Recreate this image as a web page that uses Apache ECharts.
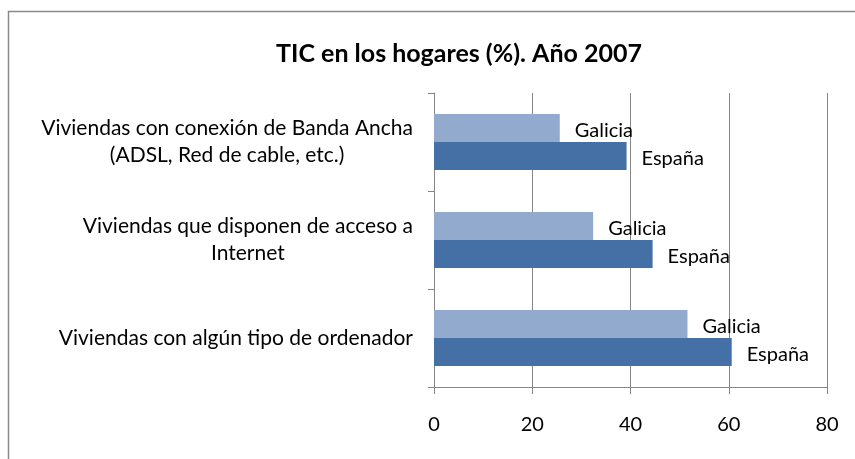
<!DOCTYPE html>
<html>
<head>
<meta charset="utf-8">
<script src="https://cdn.jsdelivr.net/npm/echarts@6/dist/echarts.min.js"></script>
<style>
  html, body { margin: 0; padding: 0; background: #fff; }
  #chart { width: 855px; height: 459px; }
</style>
</head>
<body>
<div id="chart"></div>
<script>
// categorias (de abajo a arriba, como las dibuja el eje)
var categorias = [
    'Viviendas con algún tipo de ordenador',
    'Viviendas que disponen de acceso a\nInternet',
    'Viviendas con conexión de Banda Ancha\n(ADSL, Red de cable, etc.)'
];
var galicia = [51.6, 32.4, 25.6];
var espana = [60.6, 44.5, 39.2];
var ticksX = [0, 20, 40, 60, 80];

var fuente = 'Lato';

var chart = echarts.init(document.getElementById('chart'));

// etiqueta de serie a la derecha de la barra
function etiqueta() {
    return {
        show: true,
        position: 'right',
        distance: 15,
        formatter: '{a}',
        color: '#000',
        fontFamily: fuente,
        fontSize: 20,
        offset: [0, 3]
    };
}

chart.setOption({
    animation: false,
    title: {
        text: 'TIC en los hogares (%). Año 2007',
        left: 454,
        textAlign: 'center',
        top: 36,
        textStyle: { fontFamily: fuente, fontSize: 25, fontWeight: 'bold', color: '#000' }
    },
    graphic: [{
        type: 'rect',
        shape: { x: 8.5, y: 11.5, width: 900, height: 600 },
        style: { fill: 'none', stroke: '#8a8a8a', lineWidth: 1.5 },
        silent: true
    }],
    grid: { left: 434, right: 28, top: 93, bottom: 72 },
    xAxis: {
        type: 'value',
        min: ticksX[0],
        max: ticksX[ticksX.length - 1],
        interval: 20,
        axisLine: { show: true, lineStyle: { color: '#868686', width: 1 } },
        axisTick: { show: true, length: 7, lineStyle: { color: '#868686' } },
        splitLine: { show: true, lineStyle: { color: '#868686', width: 1 } },
        axisLabel: { color: '#000', fontFamily: fuente, fontSize: 20, margin: 28 }
    },
    yAxis: {
        type: 'category',
        data: categorias,
        axisLine: { show: true, lineStyle: { color: '#868686', width: 1 } },
        axisTick: { show: true, length: 6, lineStyle: { color: '#868686' } },
        axisLabel: {
            margin: 21,
            color: '#000',
            fontFamily: fuente,
            fontSize: 21,
            lineHeight: 27,
            formatter: function (v) {
                return v.split('\n').map(function (l) { return '{c|' + l + '}'; }).join('\n');
            },
            rich: { c: { align: 'center', fontFamily: fuente, fontSize: 21, lineHeight: 27, color: '#000' } }
        }
    },
    series: [
        {
            name: 'Galicia',
            type: 'bar',
            data: galicia,
            itemStyle: { color: '#93AACF' },
            barWidth: 28,
            barGap: '0%',
            label: etiqueta()
        },
        {
            name: 'España',
            type: 'bar',
            data: espana,
            itemStyle: { color: '#4570A6' },
            barWidth: 28,
            barGap: '0%',
            label: etiqueta()
        }
    ]
});
</script>
</body>
</html>
